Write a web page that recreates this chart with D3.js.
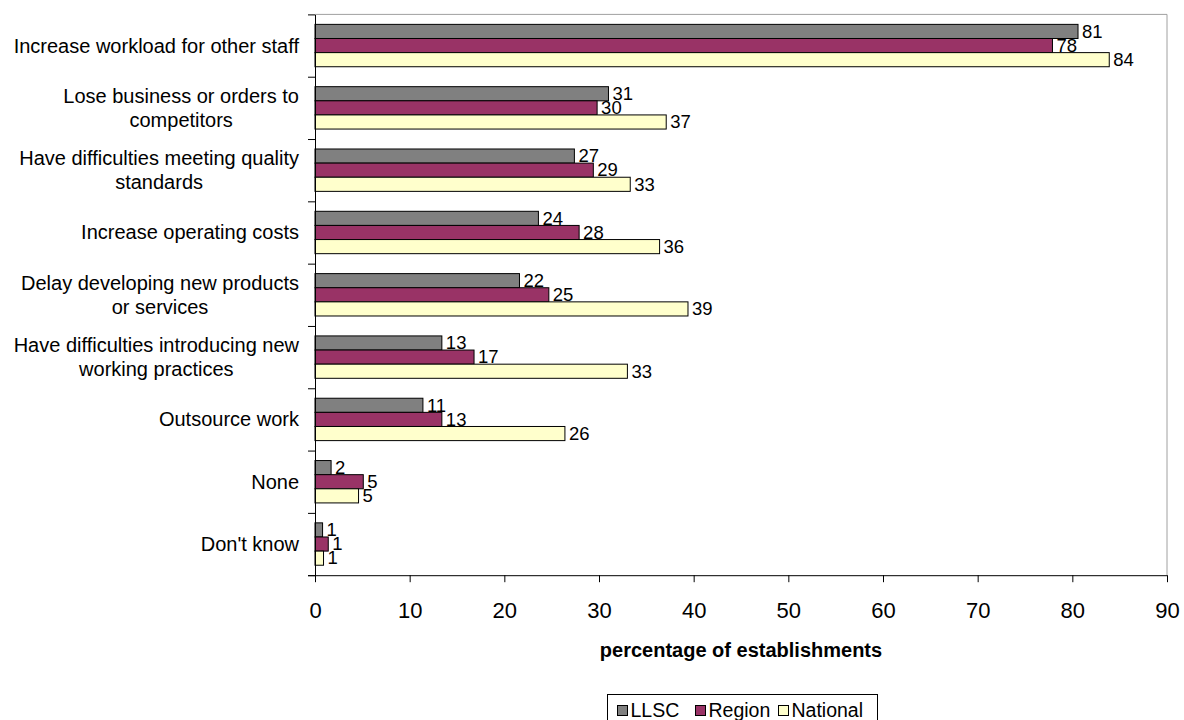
<!DOCTYPE html>
<html>
<head>
<meta charset="utf-8">
<script src="https://cdn.jsdelivr.net/npm/d3@7"></script>
<style>
  html, body { margin: 0; padding: 0; background: #fff; }
  svg { display: block; font-family: "Liberation Sans", Arial, sans-serif; }
</style>
</head>
<body>
<svg id="chart" width="1184" height="720"></svg>
<script>
// Effects of skill gaps on establishments (percentage of establishments)
const categories = [
  "Increase workload for other staff",
  "Lose business or orders to\ncompetitors",
  "Have difficulties meeting quality\nstandards",
  "Increase operating costs",
  "Delay developing new products\nor services",
  "Have difficulties introducing new\nworking practices",
  "Outsource work",
  "None",
  "Don't know"
];
const seriesNames = ["LLSC", "Region", "National"];
const llscValues     = [80.6, 31.0, 27.4, 23.6, 21.6, 13.4, 11.4, 1.7, 0.8];
const regionValues   = [77.9, 29.8, 29.4, 27.9, 24.7, 16.8, 13.4, 5.1, 1.4];
const nationalValues = [83.9, 37.1, 33.3, 36.4, 39.4, 33.0, 26.4, 4.6, 0.9];
const xTickValues = [0, 10, 20, 30, 40, 50, 60, 70, 80, 90];
const axisTitle = "percentage of establishments";

const seriesColors = { LLSC: "#808080", Region: "#993366", National: "#FFFFCC" };
const seriesData = [llscValues, regionValues, nationalValues];

const svg = d3.select("#chart");
const plot = { left: 315, right: 1167, top: 14.4, bottom: 575.2 };

const x = d3.scaleLinear().domain([0, 90]).range([plot.left, plot.right]);
const y = d3.scaleBand().domain(categories).range([plot.top, plot.bottom]).padding(0);
const bandH = y.bandwidth();
const inner = d3.scaleBand().domain(seriesNames).range([bandH * 0.16, bandH * 0.84]).padding(0);

// plot-area frame (top and right edges)
svg.append("path")
  .attr("d", `M${plot.left},${plot.top}H${plot.right}V${plot.bottom}`)
  .attr("fill", "none").attr("stroke", "#a0a0a0").attr("stroke-width", 1);

// bars
const rows = categories.map((c, i) => seriesNames.map((s, k) => ({ cat: c, series: s, value: seriesData[k][i] })));
const groups = svg.append("g").selectAll("g").data(rows).join("g")
  .attr("transform", d => `translate(0,${y(d[0].cat)})`);

groups.selectAll("rect").data(d => d).join("rect")
  .attr("x", x(0))
  .attr("y", d => inner(d.series))
  .attr("width", d => x(d.value) - x(0))
  .attr("height", inner.bandwidth())
  .attr("fill", d => seriesColors[d.series])
  .attr("stroke", "#000").attr("stroke-width", 1);

const fmt = d3.format(".0f");
groups.selectAll("text").data(d => d).join("text")
  .attr("x", d => x(d.value) + 4)
  .attr("y", d => inner(d.series) + inner.bandwidth() / 2 + 6.3)
  .attr("font-size", 18.5).attr("fill", "#000")
  .text(d => fmt(d.value));

// left axis: ticks at category boundaries
const yIdx = d3.scaleLinear().domain([0, categories.length]).range([plot.top, plot.bottom]);
const leftAxis = svg.append("g").attr("transform", `translate(${plot.left},0)`)
  .call(d3.axisLeft(yIdx).tickValues(d3.range(categories.length + 1)).tickSize(7).tickSizeOuter(0).tickFormat(""));
leftAxis.selectAll("path, line").attr("stroke", "#000");

// category labels, each line centred within a right-aligned block
const catLabels = svg.append("g").selectAll("text").data(categories).join("text")
  .attr("text-anchor", "middle")
  .attr("font-size", 20).attr("fill", "#000");
catLabels.each(function(c) {
  const lines = c.split("\n");
  const t = d3.select(this);
  const lh = 23.5;
  const cy = y(c) + bandH / 2;
  lines.forEach((ln, i) => {
    t.append("tspan").attr("y", cy + (i - (lines.length - 1) / 2) * lh + 7).text(ln);
  });
  const spans = t.selectAll("tspan").nodes();
  const maxW = d3.max(spans, n => n.getComputedTextLength());
  spans.forEach(n => d3.select(n).attr("x", 299 - maxW / 2));
});

// bottom axis
const bottomAxis = svg.append("g").attr("transform", `translate(0,${plot.bottom})`)
  .call(d3.axisBottom(x).tickValues(xTickValues).tickSize(7).tickSizeOuter(0).tickPadding(20));
bottomAxis.select(".domain").attr("d", `M${plot.left - 7},0.5H${plot.right}`);
bottomAxis.selectAll("path, line").attr("stroke", "#000");
bottomAxis.selectAll("text").attr("font-size", 22).attr("font-family", "\"Liberation Sans\", Arial, sans-serif").attr("fill", "#000");

// axis title
svg.append("text")
  .attr("x", (plot.left + plot.right) / 2).attr("y", 656.5)
  .attr("text-anchor", "middle").attr("font-size", 20).attr("font-weight", "bold")
  .text(axisTitle);

// legend
const legend = svg.append("g");
legend.append("rect").attr("x", 607.5).attr("y", 694.5).attr("width", 270).attr("height", 34)
  .attr("fill", "#fff").attr("stroke", "#000").attr("stroke-width", 1);
const legendX = { LLSC: 617, Region: 695, National: 778 };
seriesNames.forEach(s => {
  legend.append("rect").attr("x", legendX[s] + 0.5).attr("y", 705.5).attr("width", 10).attr("height", 10)
    .attr("fill", seriesColors[s]).attr("stroke", "#000").attr("stroke-width", 1);
  legend.append("text").attr("x", legendX[s] + 13.5).attr("y", 716.5)
    .attr("font-size", 19.5).attr("fill", "#000").text(s);
});
</script>
</body>
</html>
